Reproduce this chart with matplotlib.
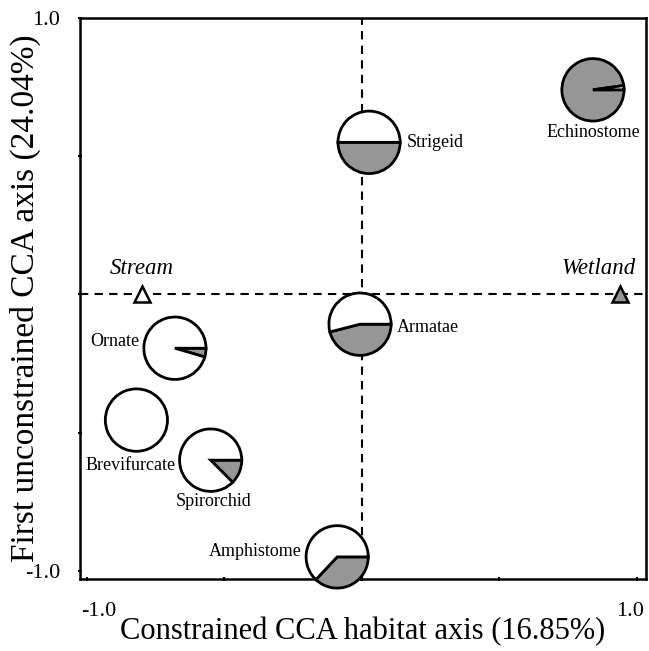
import matplotlib.pyplot as plt
from matplotlib.patches import Wedge
from matplotlib.transforms import ScaledTranslation

plt.rcParams['font.family'] = ['Liberation Serif', 'DejaVu Serif']

# parasite taxa: ordination scores and share of wetland (grey) in each pie
taxa = ["Strigeid", "Echinostome", "Armatae", "Ornate",
        "Brevifurcate", "Spirorchid", "Amphistome"]
taxa_x = [0.026, 0.84, -0.007, -0.68, -0.82, -0.55, -0.09]
taxa_y = [0.55, 0.74, -0.108, -0.195, -0.455, -0.60, -0.95]
grey_frac = [0.50, 0.978, 0.46, 0.045, 0.0, 0.125, 0.37]

# label placement (x, y, ha) for each taxon
lab_x = [0.164, 0.84, 0.128, -0.81, -0.84, -0.54, -0.22]
lab_y = [0.55, 0.585, -0.12, -0.17, -0.62, -0.75, -0.93]
lab_ha = ["left", "center", "left", "right", "center", "center", "right"]

habitats = ["Stream", "Wetland"]
hab_x = [-0.80, 0.94]
hab_y = [0.0, 0.0]
hab_lab_x = [-0.80, 0.86]

grey = "#969696"
r = 0.113

fig = plt.figure(figsize=(6.49, 6.51), dpi=100)
ax = fig.add_axes([0.1233, 0.1106, 0.8721, 0.8618])

ax.axhline(0, color="black", lw=1.5, ls=(0, (4, 3)), zorder=1)
ax.axvline(0, color="black", lw=1.5, ls=(0, (4, 3)), zorder=1)

for i in range(len(taxa)):
    c = (taxa_x[i], taxa_y[i])
    white_deg = (1 - grey_frac[i]) * 360
    if grey_frac[i] > 0:
        ax.add_patch(Wedge(c, r, white_deg, 360, facecolor=grey,
                           edgecolor="black", lw=2, zorder=3, clip_on=False))
        ax.add_patch(Wedge(c, r, 0, white_deg, facecolor="white",
                           edgecolor="black", lw=2, zorder=3, clip_on=False))
    else:
        ax.add_patch(Wedge(c, r, 0, 360, facecolor="white",
                           edgecolor="black", lw=2, zorder=3, clip_on=False))
    ax.text(lab_x[i], lab_y[i], taxa[i], ha=lab_ha[i], va="center",
            fontsize=13, zorder=4)

ax.plot(hab_x[0], hab_y[0], marker="^", ms=12, mfc="white", mec="black",
        mew=1.8, zorder=4, clip_on=False)
ax.plot(hab_x[1], hab_y[1], marker="^", ms=12, mfc=grey, mec="black",
        mew=1.8, zorder=4, clip_on=False)
for i in range(len(habitats)):
    ax.text(hab_lab_x[i], 0.094, habitats[i], ha="center", va="center",
            fontsize=16.5, style="italic")

ax.set_xlim(-1.025, 1.033)
ax.set_ylim(-1.03, 1.0)

ax.set_xticks([-1, -0.5, 0, 0.5, 1])
ax.set_xticklabels(["-1.0", "", "", "", "1.0"], fontsize=16)
ax.set_yticks([-1, -0.5, 0, 0.5, 1])
ax.set_yticklabels(["-1.0", "", "", "", "1.0"], fontsize=16)
ax.tick_params(direction="inout", length=3, width=1.5, pad=13)
ax.tick_params(axis="x", pad=15)

# x tick labels sit a little off their ticks in the original
xl = ax.get_xticklabels()
xl[0].set_transform(xl[0].get_transform() + ScaledTranslation(0.12, 0, fig.dpi_scale_trans))
xl[-1].set_transform(xl[-1].get_transform() + ScaledTranslation(-0.07, 0, fig.dpi_scale_trans))

for s in ax.spines.values():
    s.set_linewidth(1.8)

ax.set_xlabel("Constrained CCA habitat axis (16.85%)", fontsize=22, labelpad=-3)
ax.set_ylabel("First unconstrained CCA axis (24.04%)", fontsize=24, labelpad=-12)

fig.savefig("out.png", dpi=100)
